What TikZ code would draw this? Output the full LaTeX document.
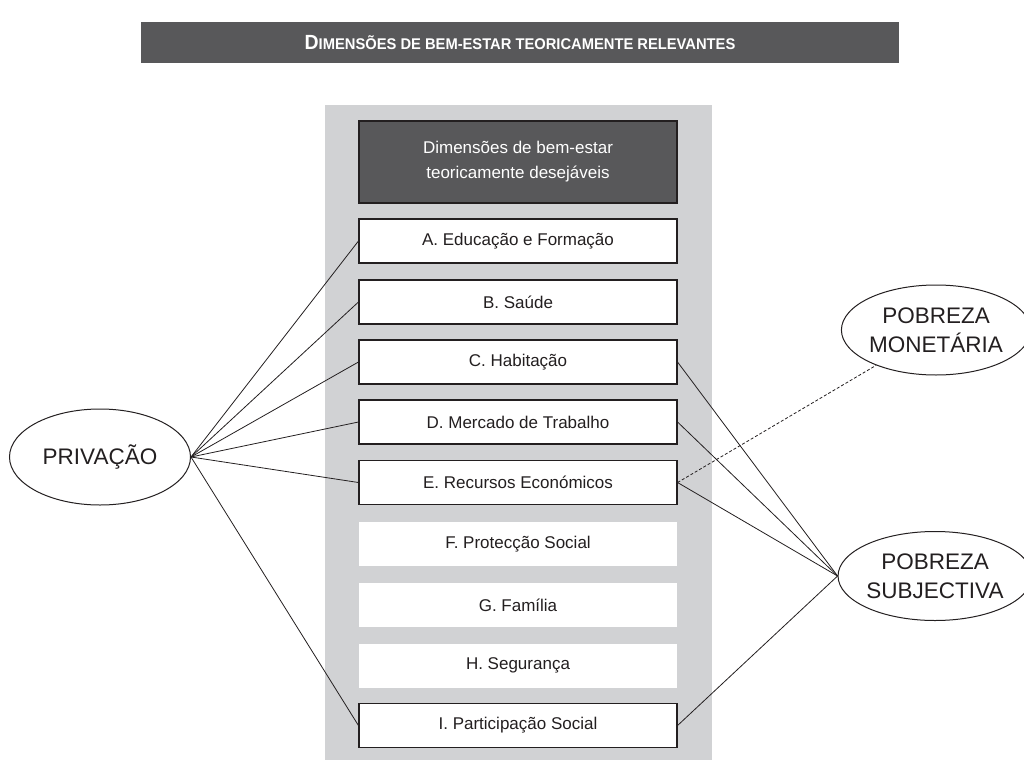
\documentclass[tikz,border=0pt]{standalone}
\usepackage{fontspec}
\usepackage{graphicx}
\setmainfont{Liberation Sans}
\usetikzlibrary{shapes.geometric}

\definecolor{bardark}{HTML}{58585A}
\definecolor{panelgray}{HTML}{D1D2D4}
\definecolor{inkgray}{HTML}{231F20}

\tikzset{
  dimbox/.style={draw=inkgray, line width=1.1pt, fill=white, minimum width=318pt,
    minimum height=44pt, inner sep=0pt, text=inkgray, font=\fontsize{17}{20}\selectfont},
  dimplain/.style={dimbox, draw=none},
  povbox/.style={ellipse, draw=inkgray, line width=1pt, inner sep=0pt, align=center,
    text=inkgray, font=\fontsize{22.5}{29}\selectfont},
  link/.style={inkgray, line width=0.8pt},
}

\begin{document}
\begin{tikzpicture}[x=1pt,y=-1pt]
\useasboundingbox (0,0) rectangle (1024,760);

% title bar
\node[fill=bardark, minimum width=758pt, minimum height=41pt, inner sep=0pt, text=white,
      font=\bfseries] (titulo) at (520,42.5)
  {\scalebox{0.95}[1]{{\fontsize{20.5}{20}\selectfont D}{\fontsize{15.5}{15}\selectfont IMENSÕES DE BEM-ESTAR TEORICAMENTE RELEVANTES}}};

% grey panel
\fill[panelgray] (325,105) rectangle (712,760);

\node[fill=bardark, draw=inkgray, line width=1.1pt, minimum width=318pt, minimum height=82pt,
      inner sep=0pt, align=center, text=white, font=\fontsize{17}{25}\selectfont] (topo) at (518,162)
  {Dimensões de bem-estar\\teoricamente desejáveis};

\node[dimbox]   (edu) at (518,241) {A. Educação e Formação};
\node[dimbox]   (sau) at (518,302) {B. Saúde};
\node[dimbox]   (hab) at (518,362) {C. Habitação};
\node[dimbox]   (mer) at (518,422) {D. Mercado de Trabalho};
\node[dimbox]   (rec) at (518,482.5) {E. Recursos Económicos};
\node[dimplain] (pro) at (518,544) {F. Protecção Social};
\node[dimplain] (fam) at (518,605) {G. Família};
\node[dimplain] (seg) at (518,665.5) {H. Segurança};
\node[dimbox]   (par) at (518,725.5) {I. Participação Social};

% ellipses
\node[povbox, minimum width=181pt, minimum height=96pt] (priv) at (100,457) {PRIVAÇÃO};
\node[povbox, minimum width=174pt, minimum height=90pt] (mon) at (936,330) {POBREZA\\MONETÁRIA};
\node[povbox, minimum width=176pt, minimum height=89pt] (subj) at (935,576) {POBREZA\\SUBJECTIVA};

% privation links
\draw[link] (priv.east) -- (edu.west);
\draw[link] (priv.east) -- (sau.west);
\draw[link] (priv.east) -- (hab.west);
\draw[link] (priv.east) -- (mer.west);
\draw[link] (priv.east) -- (rec.west);
\draw[link] (priv.east) -- (par.west);

% subjective poverty links
\draw[link] (hab.east) -- (subj.west);
\draw[link] (mer.east) -- (subj.west);
\draw[link] (rec.east) -- (subj.west);
\draw[link] (par.east) -- (subj.west);

% monetary poverty
\draw[link, dash pattern=on 3pt off 2pt] (rec.east) -- (mon);

\end{tikzpicture}
\end{document}
